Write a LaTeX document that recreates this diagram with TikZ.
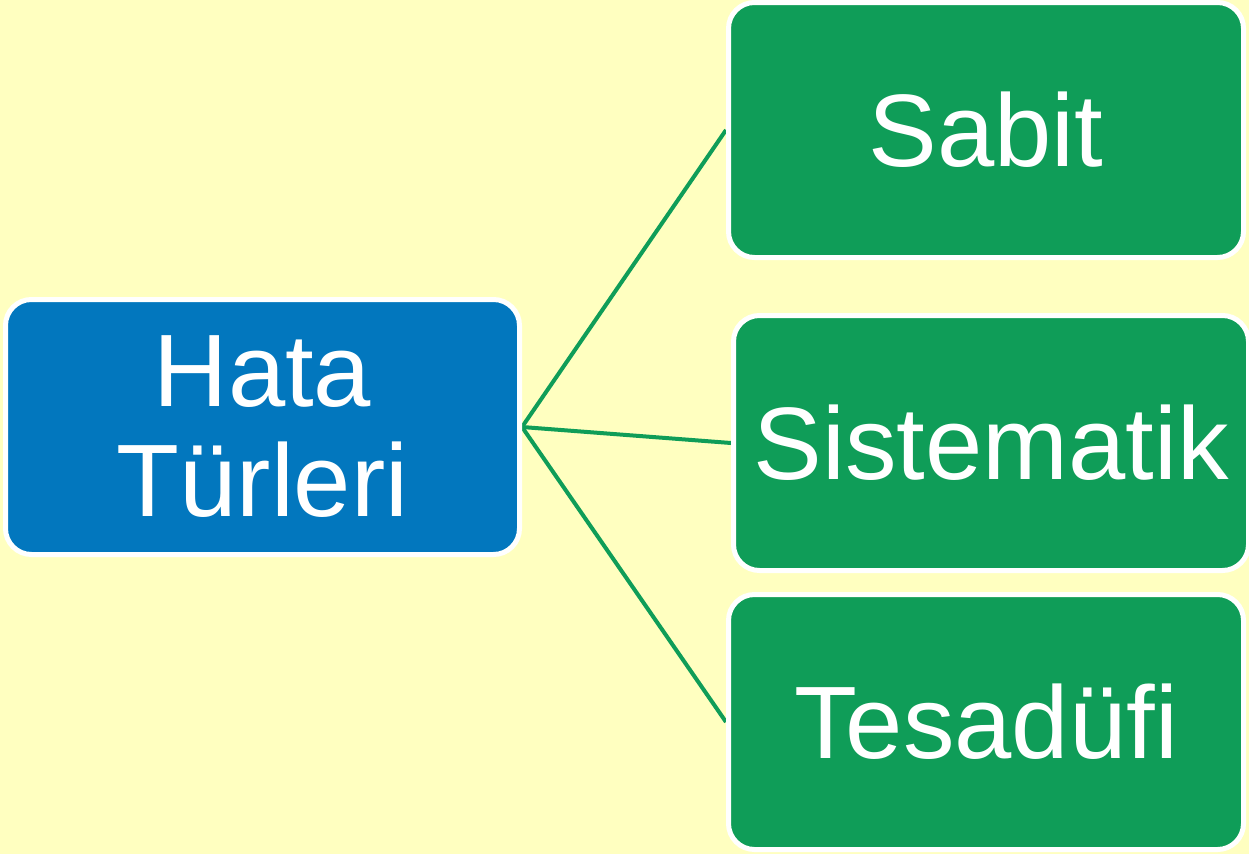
\documentclass[tikz,border=0pt]{standalone}
\usepackage{fontspec}
\setmainfont{Liberation Sans}
\usetikzlibrary{backgrounds}
\definecolor{bgyellow}{HTML}{FFFFC0}
\definecolor{boxblue}{HTML}{0277BE}
\definecolor{boxgreen}{HTML}{0F9D58}
\tikzset{
  card/.style={rounded corners=26pt, draw=white, line width=5pt,
    text=white, align=center, inner sep=0pt,
    font=\fontsize{103}{116}\selectfont},
  rootcard/.style={card, fill=boxblue, minimum width=514pt, minimum height=255pt},
  leafcard/.style={card, fill=boxgreen, minimum width=515pt, minimum height=255pt},
  link/.style={draw=boxgreen, line width=4pt}
}
\begin{document}
\begin{tikzpicture}[x=1pt,y=-1pt]
  \useasboundingbox (0,0) rectangle (1249,854);

  \node[rootcard] (hata) at (262.5,427) {Hata\\[-6pt]Türleri};
  \node[leafcard] (sabit) at (986,130) {Sabit};
  \node[leafcard] (sistematik) at (991,443) {Sistematik};
  \node[leafcard] (tesadufi) at (986,722) {Tesadüfi};

  \begin{scope}[on background layer]
    % page fill first, then the connectors above it and below the cards
    \fill[bgyellow] (0,0) rectangle (1249,854);
    \draw[link] (hata.east) -- (sabit.west);
    \draw[link] (hata.east) -- (sistematik.west);
    \draw[link] (hata.east) -- (tesadufi.west);
  \end{scope}
\end{tikzpicture}
\end{document}
